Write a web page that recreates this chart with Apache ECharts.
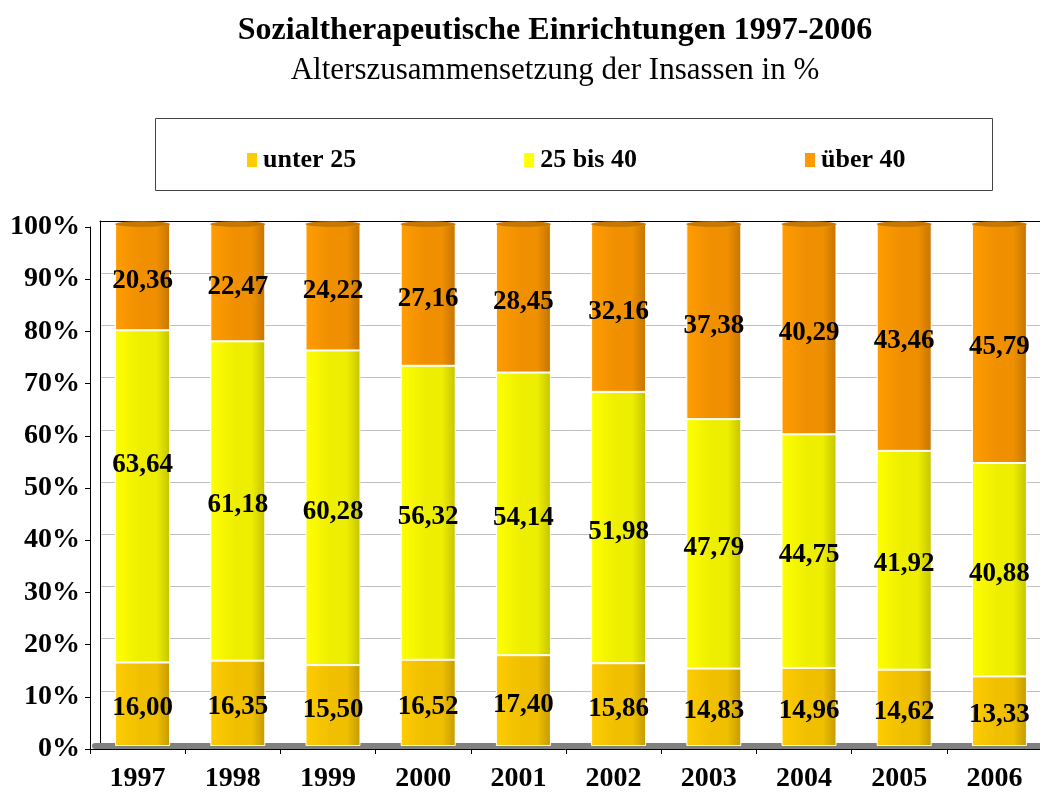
<!DOCTYPE html>
<html>
<head>
  <meta charset="utf-8">
  <title>Sozialtherapeutische Einrichtungen 1997-2006</title>
  <script src="https://fastly.jsdelivr.net/npm/echarts@6/dist/echarts.min.js"></script>
</head>
<body style="margin:0">
<div id="chart-container" style="position: relative; width: 1040px; height: 795px; overflow: hidden;"></div>
<script type="text/javascript">
  var years = ['1997', '1998', '1999', '2000', '2001', '2002', '2003', '2004', '2005', '2006'];
  var unter25 = [16.00, 16.35, 15.50, 16.52, 17.40, 15.86, 14.83, 14.96, 14.62, 13.33];
  var bis40 = [63.64, 61.18, 60.28, 56.32, 54.14, 51.98, 47.79, 44.75, 41.92, 40.88];
  var ueber40 = [20.36, 22.47, 24.22, 27.16, 28.45, 32.16, 37.38, 40.29, 43.46, 45.79];
  var seriesNames = ['unter 25', '25 bis 40', 'über 40'];

  var dom = document.getElementById('chart-container');
  var myChart = echarts.init(dom, null, { renderer: 'canvas' });
  var serif = 'Liberation Serif, Times New Roman, serif';

  function cyl(light, mid, dark) {
    return new echarts.graphic.LinearGradient(0, 0, 1, 0, [
      { offset: 0, color: light },
      { offset: 0.45, color: mid },
      { offset: 0.75, color: mid },
      { offset: 1, color: dark }
    ]);
  }

  var totals = years.map(function (y, i) {
    return +(unter25[i] + bis40[i] + ueber40[i]).toFixed(2);
  });

  var labelStyle = {
    show: true,
    position: 'inside',
    offset: [0, 4],
    color: '#000',
    fontFamily: serif,
    fontWeight: 'bold',
    fontSize: 27,
    textBorderWidth: 0,
    formatter: function (p) {
      return (+p.value).toFixed(2).replace('.', ',');
    }
  };

  function barSeries(name, values, fill) {
    return {
      name: name,
      type: 'bar',
      stack: 'all',
      xAxisIndex: 0,
      yAxisIndex: 0,
      barWidth: 55,
      itemStyle: { color: fill, borderColor: '#fff', borderWidth: 1 },
      label: labelStyle,
      data: values
    };
  }

  // 1997 mid label sits higher in the original
  var midData = bis40.map(function (v, i) {
    return i === 0 ? { value: v, label: { offset: [0, -31] } } : v;
  });

  var option = {
    backgroundColor: '#fff',
    animation: false,
    title: {
      text: 'Sozialtherapeutische Einrichtungen 1997-2006',
      subtext: 'Alterszusammensetzung der Insassen in %',
      left: 550,
      top: 10,
      textAlign: 'center',
      itemGap: 8,
      textStyle: { fontFamily: serif, fontWeight: 'bold', fontSize: 32, color: '#000' },
      subtextStyle: { fontFamily: serif, fontSize: 31, color: '#000' }
    },
    graphic: [{
      type: 'rect',
      shape: { x: 155.5, y: 118.5, width: 837, height: 72 },
      style: { fill: 'none', stroke: '#444', lineWidth: 1 }
    }],
    legend: {
      left: 240,
      top: 142,
      itemWidth: 12,
      itemHeight: 16,
      itemGap: 166,
      textStyle: { fontFamily: serif, fontWeight: 'bold', fontSize: 26, color: '#000' },
      data: [
        { name: seriesNames[0], icon: 'rect', itemStyle: { color: '#ffcc00' } },
        { name: seriesNames[1], icon: 'rect', itemStyle: { color: '#ffff00' } },
        { name: seriesNames[2], icon: 'rect', itemStyle: { color: '#ff9900' } }
      ]
    },
    grid: [
      { left: 95, top: 224, width: 952, height: 522, outerBoundsMode: 'none' },   // bars
      { left: 100, top: 221, width: 950, height: 522, outerBoundsMode: 'none' },  // back wall
      { left: 90, top: 227, width: 952, height: 522, outerBoundsMode: 'none' }    // front axes
    ],
    xAxis: [
      {
        gridIndex: 0, type: 'category', data: years,
        axisLine: { onZero: false, lineStyle: { color: '#808080', width: 6 } },
        axisTick: { show: false }, axisLabel: { show: false }
      },
      {
        gridIndex: 1, type: 'value', position: 'top', min: 0, max: 1,
        axisLine: { show: true, onZero: false, lineStyle: { color: '#000', width: 1 } },
        axisTick: { show: false }, axisLabel: { show: false }, splitLine: { show: false }
      },
      {
        gridIndex: 2, type: 'category', data: years,
        axisLine: { onZero: false, lineStyle: { color: '#000', width: 1 } },
        axisTick: { show: true, length: 5, lineStyle: { color: '#000' } },
        axisLabel: { margin: 16, fontFamily: serif, fontWeight: 'bold', fontSize: 28, color: '#000' }
      }
    ],
    yAxis: [
      { gridIndex: 0, type: 'value', min: 0, max: 100, show: false },
      {
        gridIndex: 1, type: 'value', min: 0, max: 100, interval: 10,
        axisLine: { show: true, lineStyle: { color: '#000', width: 1 } },
        axisTick: { show: false }, axisLabel: { show: false },
        splitLine: { show: true, lineStyle: { color: '#c0c0c0', width: 1 } }
      },
      {
        gridIndex: 2, type: 'value', min: 0, max: 100, interval: 10,
        axisLine: { show: true, lineStyle: { color: '#000', width: 1 } },
        axisTick: { show: true, length: 5, lineStyle: { color: '#000' } },
        splitLine: { show: false },
        axisLabel: {
          margin: 10, formatter: '{value}%',
          fontFamily: serif, fontWeight: 'bold', fontSize: 28, color: '#000'
        }
      }
    ],
    series: [
      barSeries(seriesNames[0], unter25, cyl('#ffcc00', '#f0c000', '#c49a00')),
      barSeries(seriesNames[1], midData, cyl('#ffff00', '#eeee00', '#c4c400')),
      barSeries(seriesNames[2], ueber40, cyl('#ff9c00', '#f09000', '#c47400')),
      {
        name: 'cap',
        type: 'pictorialBar',
        xAxisIndex: 0,
        yAxisIndex: 0,
        silent: true,
        symbol: 'circle',
        symbolSize: [55, 6],
        symbolPosition: 'end',
        symbolOffset: [0, '-50%'],
        itemStyle: { color: '#c87800', borderColor: '#fff', borderWidth: 1 },
        z: 3,
        data: totals
      }
    ]
  };

  myChart.setOption(option);
  window.addEventListener('resize', myChart.resize);
</script>
</body>
</html>
